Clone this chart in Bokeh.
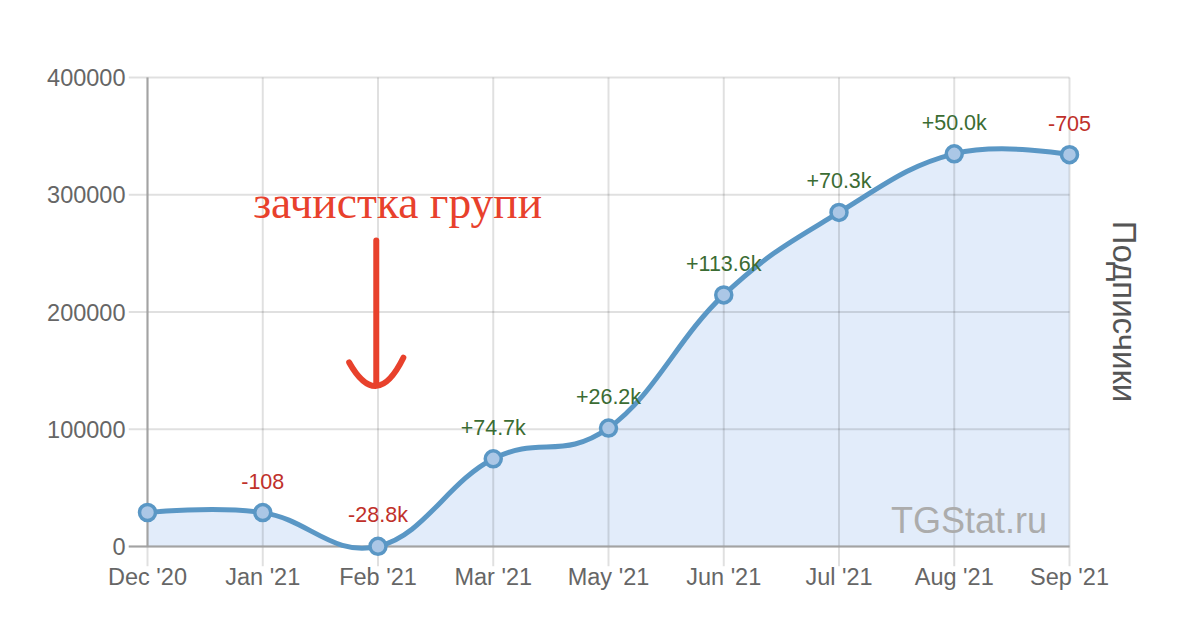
import numpy as np
from bokeh.plotting import figure
from bokeh.models import FixedTicker, LinearAxis, Range1d, ColumnDataSource, Label
from bokeh.embed import file_html
from bokeh.resources import INLINE
from bokeh.core.properties import value

# ---------------- data ----------------
months = ["Dec '20", "Jan '21", "Feb '21", "Mar '21", "May '21",
          "Jun '21", "Jul '21", "Aug '21", "Sep '21"]
subscribers = [29000, 28900, 150, 74800, 101000, 214600, 284900, 334900, 334200]
change_labels = ["", "-108", "-28.8k", "+74.7k", "+26.2k", "+113.6k", "+70.3k", "+50.0k", "-705"]
y_ticks = [0, 100000, 200000, 300000, 400000]
y_tick_labels = ["0", "100000", "200000", "300000", "400000"]

# ---------------- layout (canvas pixels) ----------------
W, H = 1166, 602
PL, PR, PT, PB = 147, 1069, 77, 546      # plot area: first..last category, 0..max tick
FL, FR, FT, FB = 128, 1100, 56, 566      # frame
n = len(months)
xs = list(range(n))
ppx = (PR - PL) / (n - 1)
ppy = (PB - PT) / y_ticks[-1]
x_start = -(PL - FL) / ppx
x_end = (n - 1) + (FR - PR) / ppx
y_start = -(FB - PB) / ppy
y_end = y_ticks[-1] + (PT - FT) / ppy

FONT = "Liberation Sans"
LINE = "#5a97c5"

p = figure(width=W, height=H, output_backend="svg", toolbar_location=None,
           x_range=Range1d(x_start, x_end), y_range=Range1d(y_start, y_end),
           min_border_left=FL, min_border_right=W - FR,
           min_border_top=FT, min_border_bottom=H - FB)
p.outline_line_color = None
p.xgrid.visible = False
p.ygrid.visible = False
p.background_fill_color = "white"
p.border_fill_color = "white"

# ---------------- spline control points ----------------
def spline_controls(x, y, smoothing=1.5):
    m = len(x)
    lc = [(x[i], y[i]) for i in range(m)]
    rc = [(x[i], y[i]) for i in range(m)]
    d = smoothing + 1
    for i in range(1, m - 1):
        px, py = x[i], y[i]
        lx, ly = x[i - 1], y[i - 1]
        nx, ny = x[i + 1], y[i + 1]
        lcx = (smoothing * px + lx) / d
        lcy = (smoothing * py + ly) / d
        rcx = (smoothing * px + nx) / d
        rcy = (smoothing * py + ny) / d
        if rcx != lcx:
            corr = ((rcy - lcy) * (rcx - px)) / (rcx - lcx) + py - rcy
            lcy += corr
            rcy += corr
        lc[i] = (lcx, lcy)
        rc[i] = (rcx, rcy)
    return lc, rc

lc, rc = spline_controls(xs, subscribers)
bx0 = xs[:-1]; by0 = subscribers[:-1]
bx1 = xs[1:]; by1 = subscribers[1:]
cx0 = [rc[i][0] for i in range(n - 1)]; cy0 = [rc[i][1] for i in range(n - 1)]
cx1 = [lc[i + 1][0] for i in range(n - 1)]; cy1 = [lc[i + 1][1] for i in range(n - 1)]

# sampled curve for the area fill
ax, ay = [], []
t = np.linspace(0, 1, 40)
for i in range(n - 1):
    a = (1 - t) ** 3; b = 3 * (1 - t) ** 2 * t; c = 3 * (1 - t) * t ** 2; e = t ** 3
    ax.extend(a * bx0[i] + b * cx0[i] + c * cx1[i] + e * bx1[i])
    ay.extend(a * by0[i] + b * cy0[i] + c * cy1[i] + e * by1[i])
px_ = [xs[0]] + ax + [xs[-1]]
py_ = [0] + ay + [0]
p.patch(px_, py_, fill_color="#e2ecfa", line_color=None)

# ---------------- grid & axis lines ----------------
p.segment(x0=[x_start] * len(y_ticks), y0=y_ticks, x1=[xs[-1]] * len(y_ticks), y1=y_ticks,
          line_color="black", line_alpha=0.12, line_width=2)
p.segment(x0=xs, y0=[y_start] * n, x1=xs, y1=[y_ticks[-1]] * n,
          line_color="black", line_alpha=0.12, line_width=2)
p.segment(x0=[x_start], y0=[0], x1=[xs[-1]], y1=[0], line_color="#a3a3a3", line_width=2)
p.segment(x0=[xs[0]], y0=[0], x1=[xs[0]], y1=[y_ticks[-1]], line_color="#a3a3a3", line_width=2)

# ---------------- series ----------------
p.bezier(x0=bx0, y0=by0, x1=bx1, y1=by1, cx0=cx0, cy0=cy0, cx1=cx1, cy1=cy1,
         line_color=LINE, line_width=5)
p.scatter(xs, subscribers, marker="circle", size=16, fill_color="#abc7e6",
          line_color=LINE, line_width=3.5)

lab_src = ColumnDataSource(dict(
    x=xs, y=subscribers, text=change_labels,
    color=["#3b6c33" if s.startswith("+") else "#c0302a" for s in change_labels]))
p.text(x="x", y="y", text="text", source=lab_src, y_offset=-31,
       text_align="center", text_baseline="middle", text_color="color",
       text_font=value(FONT), text_font_size="21.5px")

# ---------------- annotations ----------------
p.add_layout(Label(x=7.128, y=22200, text="TGStat.ru", text_align="center",
                   text_baseline="alphabetic", text_color="#acacac",
                   text_font=FONT, text_font_size="36px"))
p.add_layout(Label(x=2.17, y=293500, text="зачистка групи", text_align="center",
                   text_baseline="alphabetic", text_color="#e8412c",
                   text_font="Liberation Serif", text_font_size="45.5px"))
p.segment(x0=[1.985], y0=[261000], x1=[1.985], y1=[138000],
          line_color="#e8412c", line_width=6, line_cap="round")
p.quadratic(x0=[1.75], y0=[157000], x1=[2.22], y1=[161000], cx=[1.99], cy=[115000],
            line_color="#e8412c", line_width=6, line_cap="round")

# ---------------- axes ----------------
xa = p.xaxis[0]
xa.ticker = FixedTicker(ticks=xs)
xa.major_label_overrides = {i: m for i, m in enumerate(months)}
xa.axis_line_color = None
xa.major_tick_line_color = None
xa.minor_tick_line_color = None
xa.major_label_standoff = -9
xa.major_label_text_font = FONT
xa.major_label_text_font_size = "23.5px"
xa.major_label_text_color = "#666666"

ya = p.yaxis[0]
ya.ticker = FixedTicker(ticks=y_ticks)
ya.major_label_overrides = {v: s for v, s in zip(y_ticks, y_tick_labels)}
ya.axis_line_color = None
ya.major_tick_line_color = None
ya.minor_tick_line_color = None
ya.major_label_standoff = -3
ya.major_label_text_font = FONT
ya.major_label_text_font_size = "23.5px"
ya.major_label_text_color = "#666666"

ra = LinearAxis(ticker=FixedTicker(ticks=[]), axis_label="Подписчики")
ra.axis_line_color = None
ra.major_tick_line_color = None
ra.minor_tick_line_color = None
ra.axis_label_standoff = 5
ra.axis_label_text_font = FONT
ra.axis_label_text_font_style = "normal"
ra.axis_label_text_font_size = "33px"
ra.axis_label_text_color = "#555555"
p.add_layout(ra, "right")

open("out.html", "w").write(file_html(p, INLINE))
